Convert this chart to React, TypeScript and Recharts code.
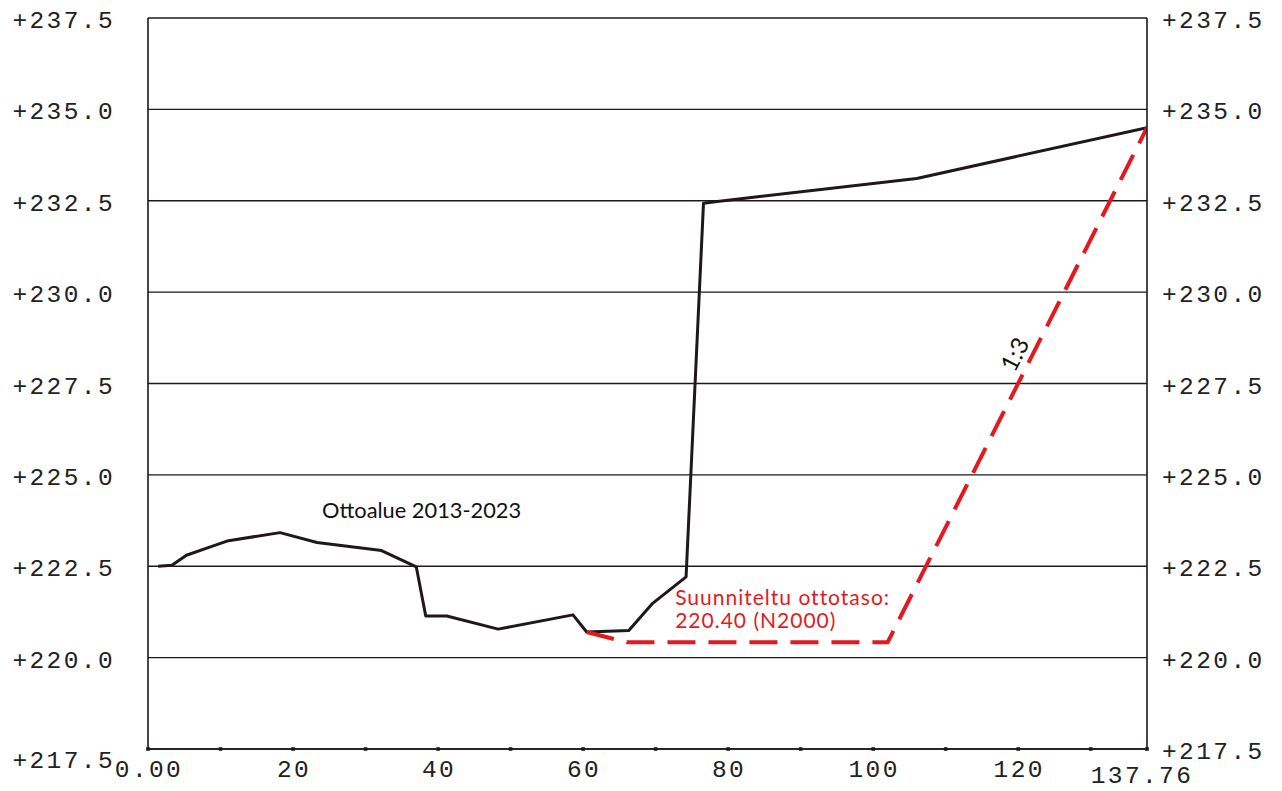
import React from 'react';
import { LineChart, Line, XAxis, YAxis, CartesianGrid, ReferenceDot } from 'recharts';

// Measured ground profile ("Ottoalue 2013-2023")
const profileX = [1.4, 3.3, 5.3, 8.6, 11.1, 18.2, 23.3, 32.2, 37.0, 38.3, 41.2, 48.3, 58.6, 60.5, 66.3, 69.5, 74.2, 76.6, 78.5, 106.0, 137.76];
const profileY = [222.5, 222.53, 222.8, 223.03, 223.2, 223.42, 223.15, 222.93, 222.48, 221.14, 221.14, 220.78, 221.17, 220.7, 220.74, 221.47, 222.21, 232.43, 232.48, 233.11, 234.5];

// Planned extraction level (red dashed)
const planX = [60.5, 66.0, 102.0, 137.76];
const planY = [220.7, 220.42, 220.42, 234.5];

const yTicks = [217.5, 220, 222.5, 225, 227.5, 230, 232.5, 235, 237.5];
const xTicks = [0, 10, 20, 30, 40, 50, 60, 70, 80, 90, 100, 110, 120, 130, 137.76];
const xLabelTicks = [0, 20, 40, 60, 80, 100, 120, 137.76];
const xLabelText = ['0.00', '20', '40', '60', '80', '100', '120', '137.76'];

const profileData = profileX.map((x, i) => ({ x, y: profileY[i] }));
const planData = planX.map((x, i) => ({ x, y: planY[i] }));

const INK = '#1e1818';
const RED = '#e3191f';
const monoStyle: React.CSSProperties = { fontFamily: 'Liberation Mono', fontSize: 24.5, letterSpacing: 2.4 };
const fmtY = (v: number) => '+' + v.toFixed(1);

const LeftTick = (props: any) => {
  const { x, y, payload } = props;
  const v = payload.value;
  const dy = v === 217.5 ? 19 : 10;
  return (
    <text x={x + 2} y={y + dy} textAnchor="end" fill="#222" style={monoStyle}>
      {fmtY(v)}
    </text>
  );
};

const RightTick = (props: any) => {
  const { x, y, payload } = props;
  const v = payload.value;
  return (
    <text x={x} y={y + 10} textAnchor="start" fill="#222" style={monoStyle}>
      {fmtY(v)}
    </text>
  );
};

const BottomTick = (props: any) => {
  const { x, y, payload } = props;
  const v = payload.value;
  const idx = xLabelTicks.indexOf(v);
  const last = v === 137.76;
  return (
    <g>
      <rect x={x - 1.8} y={y - 1.8} width={3.6} height={3.6} fill={INK} />
      {idx >= 0 && (
        <text x={x + (last ? -5 : 1)} y={y + (last ? 34 : 28)} textAnchor="middle" fill="#222" style={monoStyle}>
          {xLabelText[idx]}
        </text>
      )}
    </g>
  );
};

const textShape = (text: string, color: string, size: number, spacing: number, rotate?: number, anchor: string = 'start') => (p: any) => {
  const { cx, cy } = p;
  return (
    <text
      x={cx}
      y={cy}
      fill={color}
      textAnchor={anchor as any}
      dominantBaseline="central"
      transform={rotate ? `rotate(${rotate} ${cx} ${cy})` : undefined}
      style={{ fontFamily: 'Lato', fontSize: size, letterSpacing: spacing }}
    >
      {text}
    </text>
  );
};

export default function App() {
  return (
    <div style={{ position: 'absolute', left: 0, top: 0, background: '#fff' }}>
      <LineChart width={1282} height={791} margin={{ top: 18, right: 0, bottom: 0, left: 0 }}>
        <CartesianGrid horizontal vertical={false} stroke={INK} strokeWidth={1.4} strokeOpacity={1} />
        <XAxis
          type="number"
          dataKey="x"
          domain={[0, 137.76]}
          ticks={xTicks}
          interval={0}
          height={42}
          tickSize={0}
          tickMargin={0}
          tickLine={false}
          axisLine={{ stroke: INK, strokeWidth: 1.6 }}
          tick={<BottomTick />}
          allowDataOverflow
        />
        <YAxis
          type="number"
          domain={[217.5, 237.5]}
          ticks={yTicks}
          interval={0}
          width={148}
          tickSize={0}
          tickMargin={35}
          tickLine={false}
          axisLine={{ stroke: INK, strokeWidth: 1.6 }}
          tick={<LeftTick />}
          allowDataOverflow
        />
        <YAxis
          yAxisId="right"
          orientation="right"
          type="number"
          domain={[217.5, 237.5]}
          ticks={yTicks}
          interval={0}
          width={135}
          tickSize={0}
          tickMargin={15}
          tickLine={false}
          axisLine={{ stroke: INK, strokeWidth: 1.6 }}
          tick={<RightTick />}
          allowDataOverflow
        />
        <Line
          data={profileData}
          dataKey="y"
          type="linear"
          stroke={INK}
          strokeWidth={3}
          dot={false}
          activeDot={false}
          isAnimationActive={false}
          strokeLinejoin="round"
        />
        <Line
          data={planData}
          dataKey="y"
          type="linear"
          stroke={RED}
          strokeWidth={4}
          strokeDasharray="28 13"
          dot={false}
          activeDot={false}
          isAnimationActive={false}
        />
        <ReferenceDot x={24.0} y={224.05} r={1} ifOverflow="visible" shape={textShape('Ottoalue 2013-2023', '#111', 21.8, 0)} />
        <ReferenceDot x={72.7} y={221.68} r={1} ifOverflow="visible" shape={textShape('Suunniteltu ottotaso:', RED, 21, 1)} />
        <ReferenceDot x={72.7} y={221.04} r={1} ifOverflow="visible" shape={textShape('220.40 (N2000)', RED, 21, 1)} />
        <ReferenceDot x={119.4} y={228.31} r={1} ifOverflow="visible" shape={textShape('1:3', '#111', 24, 0, -63, 'middle')} />
      </LineChart>
    </div>
  );
}
